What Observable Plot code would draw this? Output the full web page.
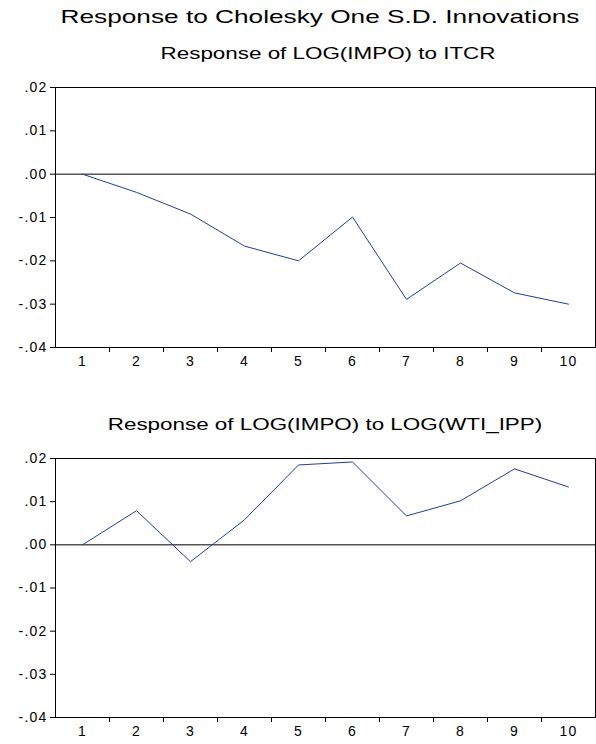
<!DOCTYPE html>
<html><head><meta charset="utf-8">
<script src="https://cdn.jsdelivr.net/npm/d3@7"></script>
<script src="https://cdn.jsdelivr.net/npm/@observablehq/plot@0.6"></script>
<style>
body{margin:0;font-family:"Liberation Sans",Arial,sans-serif;background:#fff;}
#wrap{position:relative;width:596px;height:744px;overflow:hidden;}
.t{position:absolute;width:600px;text-align:center;color:#000;white-space:nowrap;}
.p{position:absolute;left:0;}
.p svg text{letter-spacing:1.2px;}
</style></head><body>
<div id="wrap">
  <div class="t" style="left:20px;top:6px;font-size:19px;transform:scaleX(1.38);">Response to Cholesky One S.D. Innovations</div>
  <div class="t" style="left:28px;top:45px;font-size:16px;transform:scaleX(1.4);">Response of LOG(IMPO) to ITCR</div>
  <div class="p" id="c1" style="top:70px"></div>
  <div class="t" style="left:25px;top:416px;font-size:16px;transform:scaleX(1.4);">Response of LOG(IMPO) to LOG(WTI_IPP)</div>
  <div class="p" id="c2" style="top:441px"></div>
</div>
<script>
const periods = [1,2,3,4,5,6,7,8,9,10];
const itcr = [0,-0.0042,-0.0092,-0.0166,-0.0200,-0.0099,-0.0289,-0.0205,-0.0274,-0.0300];
const wti = [0,0.0079,-0.0039,0.0058,0.0185,0.0192,0.0067,0.0102,0.0176,0.0134];
const yTicks = [-0.04,-0.03,-0.02,-0.01,0,0.01,0.02];
const fmt = v => d3.format(".2f")(v).replace("0.", ".").replace("\u2212", "-");

function panel(values, height, mb) {
  const data = periods.map((p, i) => ({p, v: values[i]}));
  return Plot.plot({
    width: 596, height,
    marginLeft: 55, marginRight: 1, marginTop: 17, marginBottom: mb,
    style: {fontFamily: "Liberation Sans, Arial, sans-serif", fontSize: "14px", color: "#000"},
    x: {domain: [0.5, 10.5]},
    y: {domain: [-0.04, 0.02]},
    marks: [
      Plot.frame({stroke: "#000"}),
      Plot.axisY({ticks: yTicks, tickFormat: fmt, tickSize: 5, tickPadding: 3, label: null, fontSize: 14}),
      Plot.axisX({ticks: [1.5,2.5,3.5,4.5,5.5,6.5,7.5,8.5,9.5], tickFormat: () => "", tickSize: 5, label: null}),
      Plot.axisX({ticks: periods, tickSize: 0, tickPadding: 9, label: null, fontSize: 14}),
      Plot.ruleY([0], {stroke: "#000"}),
      Plot.line(data, {x: "p", y: "v", stroke: "#1f3d9c", strokeWidth: 1})
    ]
  });
}
document.getElementById("c1").append(panel(itcr, 310, 33));
document.getElementById("c2").append(panel(wti, 303, 27));
</script>
</body></html>
